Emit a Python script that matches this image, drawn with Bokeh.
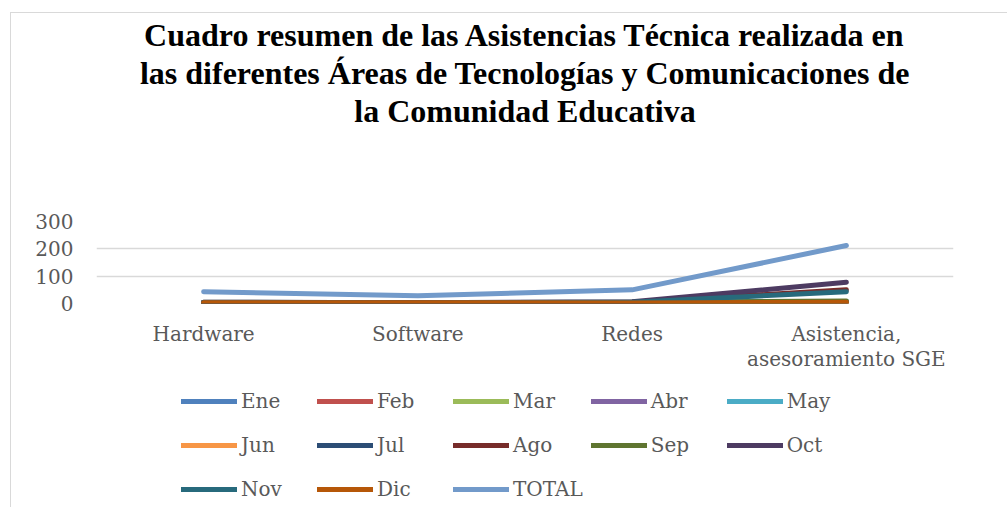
from bokeh.plotting import figure
from bokeh.models import FixedTicker, Legend, LegendItem, Title, Range1d
from bokeh.layouts import column
from bokeh.embed import file_html
from bokeh.resources import INLINE

categories = ["Hardware", "Software", "Redes", "Asistencia,\nasesoramiento SGE"]
series_names = ["Ene", "Feb", "Mar", "Abr", "May", "Jun", "Jul", "Ago", "Sep", "Oct", "Nov", "Dic", "TOTAL"]
Ene = [4, 2, 3, 3]
Feb = [3, 2, 4, 4]
Mar = [4, 2, 5, 3]
Abr = [3, 3, 4, 5]
May = [5, 2, 5, 3]
Jun = [2, 1, 3, 2]
Jul = [4, 3, 4, 7]
Ago = [5, 3, 5, 50]
Sep = [3, 2, 4, 9]
Oct = [4, 3, 6, 78]
Nov = [3, 2, 5, 43]
Dic = [3, 3, 2, 5]
TOTAL = [43, 28, 50, 212]
y_ticks = [0, 100, 200, 300]
title_lines = ["Cuadro resumen de las Asistencias Técnica realizada en",
               "las diferentes Áreas de Tecnologías y Comunicaciones de",
               "la Comunidad Educativa"]

series_values = [Ene, Feb, Mar, Abr, May, Jun, Jul, Ago, Sep, Oct, Nov, Dic, TOTAL]
colors = ["#4F81BD", "#C0504D", "#9BBB59", "#8064A2", "#4BACC6", "#F79646",
          "#2C4D75", "#772C2A", "#5F7530", "#4D3B62", "#276A7C", "#B65708", "#729ACA"]

SERIF = "DejaVu Serif"
TITLE_FONT = "Liberation Serif"
BORDER = "1px solid #d9d9d9"
xs = list(range(len(categories)))

# ---- main chart ----
p = figure(x_range=Range1d(-0.5, len(categories) - 0.5), y_range=Range1d(0, 300),
           width=997, height=366,
           min_border_left=85, min_border_right=55, min_border_top=208, min_border_bottom=76,
           output_backend="svg", toolbar_location=None)
p.margin = (12, 0, 0, 10)
p.outline_line_color = None
p.background_fill_color = "white"
p.border_fill_color = "white"
p.styles = {"border-left": BORDER, "border-top": BORDER}

# invisible spacer between the title block and the plot area
p.add_layout(Title(text=" ", text_font_size="82px", standoff=0), "above")
for t in reversed(title_lines):
    p.add_layout(Title(text=t, align="center", text_font=TITLE_FONT, text_font_size="32px",
                       text_font_style="bold", text_color="black", text_line_height=0.9,
                       standoff=0), "above")

p.yaxis.ticker = FixedTicker(ticks=y_ticks)
p.yaxis.axis_line_color = None
p.yaxis.major_tick_line_color = None
p.yaxis.minor_tick_line_color = None
p.yaxis.major_label_text_font = SERIF
p.yaxis.major_label_text_font_size = "20px"
p.yaxis.major_label_text_color = "#595959"
p.yaxis.major_label_standoff = 17

p.xaxis.ticker = FixedTicker(ticks=xs)
p.xaxis.major_label_overrides = {i: c for i, c in zip(xs, categories)}
p.xaxis.axis_line_color = None
p.xaxis.major_tick_line_color = None
p.xaxis.minor_tick_line_color = None
p.xaxis.major_label_text_font = SERIF
p.xaxis.major_label_text_font_size = "20px"
p.xaxis.major_label_text_color = "#595959"
p.xaxis.major_label_text_line_height = 1.05
p.xaxis.major_label_standoff = 12

p.xgrid.grid_line_color = None
p.ygrid.grid_line_color = "#d9d9d9"
p.ygrid.grid_line_width = 1.5

for vals, c in zip(series_values, colors):
    p.line(x=xs, y=vals, line_width=5, line_color=c, line_cap="round", line_join="round")

# ---- legend strip: same series and styles, plotted out of view so only the legend shows ----
p2 = figure(width=997, height=129, x_range=Range1d(-0.5, len(categories) - 0.5),
            y_range=Range1d(1000, 1001),
            x_axis_location=None, y_axis_location=None, min_border=0,
            output_backend="svg", toolbar_location=None)
p2.margin = (0, 0, 0, 10)
p2.grid.visible = False
p2.outline_line_color = None
p2.background_fill_color = "white"
p2.border_fill_color = "white"
p2.styles = {"border-left": BORDER}

items = []
for name, vals, c in zip(series_names, series_values, colors):
    r = p2.line(x=xs, y=vals, line_width=5, line_color=c, line_cap="round", line_join="round")
    items.append(LegendItem(label=name, renderers=[r]))

legend = Legend(items=items, orientation="horizontal", ncols=5, location=(85, 0),
                label_text_font=SERIF, label_text_font_size="20px", label_text_color="#595959",
                glyph_width=56, glyph_height=36, label_height=36, label_width=68,
                label_standoff=4, spacing=8,
                border_line_color=None, background_fill_alpha=0, padding=0, margin=0)
p2.add_layout(legend, "center")

open("out.html", "w").write(file_html(column(p, p2), INLINE))
